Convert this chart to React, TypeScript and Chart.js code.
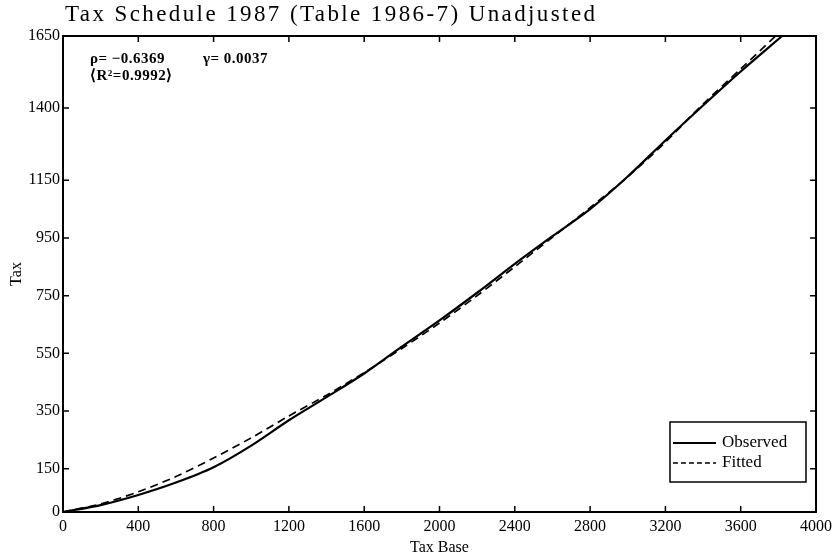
import React, { useEffect, useRef } from "react";
import { Chart, registerables } from "chart.js";

Chart.register(...registerables);

const titleText = "Tax Schedule 1987 (Table 1986-7) Unadjusted";
const xAxisTitle = "Tax Base";
const yAxisTitle = "Tax";
const seriesLabels = ["Observed", "Fitted"];
const annotationRow1 = ["ρ= −0.6369", "γ= 0.0037"];
const annotationRow2 = "⟨R²=0.9992⟩";

const observedBase = [0, 200, 400, 600, 800, 1000, 1200, 1400, 1600, 1800, 2000, 2200, 2400, 2600, 2800, 3000, 3200, 3400, 3600, 3820];
const observedTax = [0, 24, 59, 102, 155, 230, 318, 398, 480, 573, 664, 760, 860, 956, 1050, 1163, 1288, 1409, 1527, 1650];

const fittedBase = [0, 200, 400, 600, 800, 1000, 1200, 1400, 1600, 1800, 2000, 2200, 2400, 2600, 2800, 3000, 3200, 3400, 3600, 3785];
const fittedTax = [0, 28, 70, 123, 187, 257, 333, 405, 483, 567, 655, 750, 850, 952, 1055, 1162, 1282, 1414, 1536, 1650];

const xTickValues = [0, 400, 800, 1200, 1600, 2000, 2400, 2800, 3200, 3600, 4000];
const yTickValues = [0, 150, 350, 550, 750, 950, 1150, 1400, 1650];

const FONT = "'Liberation Serif', 'Times New Roman', serif";

const framePlugin = {
  id: "frameAndText",
  afterDraw(chart: any) {
    const { ctx, chartArea } = chart;
    const { left, right, top, bottom } = chartArea;
    const xs = chart.scales.x;
    const ys = chart.scales.y;
    ctx.save();
    ctx.strokeStyle = "#000";
    ctx.lineWidth = 2;
    ctx.strokeRect(left, top, right - left, bottom - top);
    ctx.lineWidth = 1.5;
    const tl = 6;
    ctx.beginPath();
    xs.ticks.forEach((t: any) => {
      const px = xs.getPixelForValue(t.value);
      ctx.moveTo(px, bottom);
      ctx.lineTo(px, bottom - tl);
      ctx.moveTo(px, top);
      ctx.lineTo(px, top + tl);
    });
    ys.ticks.forEach((t: any) => {
      const py = ys.getPixelForValue(t.value);
      ctx.moveTo(left, py);
      ctx.lineTo(left + tl, py);
      ctx.moveTo(right, py);
      ctx.lineTo(right - tl, py);
    });
    ctx.stroke();

    // title
    ctx.fillStyle = "#000";
    ctx.font = `23px ${FONT}`;
    try { (ctx as any).letterSpacing = "2.4px"; } catch (e) {}
    ctx.textAlign = "left";
    ctx.textBaseline = "alphabetic";
    ctx.fillText(titleText, left + 2, 21);

    // annotation
    ctx.font = `bold 15px ${FONT}`;
    try { (ctx as any).letterSpacing = "0.5px"; } catch (e) {}
    ctx.textBaseline = "middle";
    ctx.fillText(annotationRow1[0], left + 27, 59);
    ctx.fillText(annotationRow1[1], left + 140, 59);
    ctx.fillText(annotationRow2, left + 27, 76);
    try { (ctx as any).letterSpacing = "0px"; } catch (e) {}

    // legend
    const bx = right - 146;
    const by = bottom - 90;
    const bw = 136;
    const bh = 60;
    ctx.lineWidth = 1.5;
    ctx.strokeRect(bx, by, bw, bh);
    ctx.font = `17px ${FONT}`;
    const ds = chart.data.datasets;
    ds.forEach((d: any, i: number) => {
      const yy = by + 21 + i * 20;
      ctx.beginPath();
      ctx.lineWidth = d.borderWidth;
      ctx.setLineDash(d.borderDash ? [5, 3] : []);
      ctx.moveTo(bx + 3, yy);
      ctx.lineTo(bx + 46, yy);
      ctx.stroke();
      ctx.setLineDash([]);
      ctx.fillText(d.label, bx + 52, yy);
    });
    ctx.restore();
  },
};

export default function App() {
  const ref = useRef<HTMLCanvasElement | null>(null);
  useEffect(() => {
    if (!ref.current) return;
    const chart = new Chart(ref.current, {
      type: "line",
      data: {
        datasets: [
          {
            label: seriesLabels[0],
            data: observedBase.map((x, i) => ({ x, y: observedTax[i] })),
            borderColor: "#000",
            borderWidth: 2.2,
            pointRadius: 0,
            tension: 0.3,
            fill: false,
          },
          {
            label: seriesLabels[1],
            data: fittedBase.map((x, i) => ({ x, y: fittedTax[i] })),
            borderColor: "#000",
            borderWidth: 1.7,
            borderDash: [8, 5],
            pointRadius: 0,
            tension: 0.3,
            fill: false,
          },
        ],
      },
      options: {
        animation: false,
        responsive: false,
        maintainAspectRatio: false,
        layout: { padding: { top: 36, right: 22, left: 0, bottom: 0 } },
        plugins: {
          legend: { display: false },
          tooltip: { enabled: false },
          title: { display: false },
        },
        scales: {
          x: {
            type: "linear",
            min: 0,
            max: 4000,
            afterBuildTicks: (s: any) => {
              s.ticks = xTickValues.map((v) => ({ value: v }));
            },
            afterFit: (s: any) => {
              s.height = 48;
            },
            grid: { display: false, drawTicks: false },
            border: { display: false },
            ticks: {
              padding: 5,
              color: "#000",
              maxRotation: 0,
              autoSkip: false,
              font: { family: FONT, size: 16 },
              callback: (v: any) => String(v),
            },
            title: {
              display: true,
              text: xAxisTitle,
              color: "#000",
              font: { family: FONT, size: 16 },
              padding: { top: 0, bottom: 3 },
            },
          },
          y: {
            type: "linear",
            min: 0,
            max: 1650,
            afterBuildTicks: (s: any) => {
              s.ticks = yTickValues.map((v) => ({ value: v }));
            },
            afterFit: (s: any) => {
              s.width = 63;
            },
            grid: { display: false, drawTicks: false },
            border: { display: false },
            ticks: {
              padding: 3,
              color: "#000",
              autoSkip: false,
              font: { family: FONT, size: 16 },
              callback: (v: any) => String(v),
            },
            title: {
              display: true,
              text: yAxisTitle,
              color: "#000",
              font: { family: FONT, size: 16 },
              padding: { top: 7, bottom: 0 },
            },
          },
        },
      },
      plugins: [framePlugin],
    });
    return () => chart.destroy();
  }, []);
  return (
    <div style={{ position: "absolute", left: 0, top: 0, width: 838, height: 560, background: "#fff" }}>
      <canvas ref={ref} width={838} height={560} />
    </div>
  );
}
